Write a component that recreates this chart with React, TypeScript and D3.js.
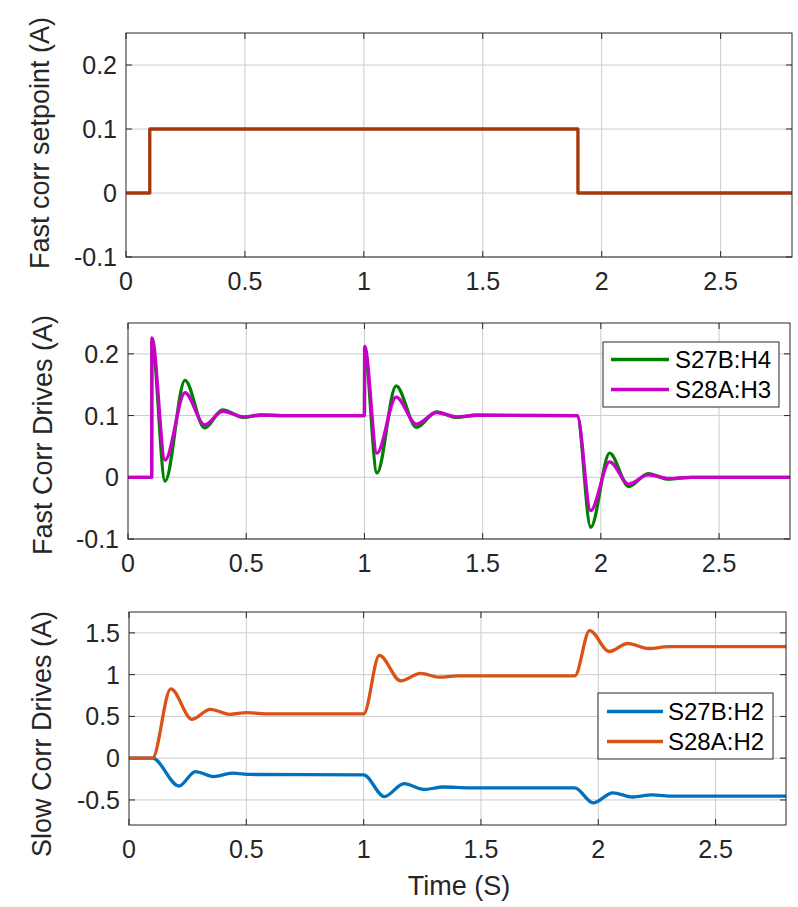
import React from 'react';
import * as d3 from 'd3';

// setpoint (step)
const spTime = [0, 0.1, 1.9, 2.8];
const spValue = [0, 0.1, 0, 0];

// fast corrector drives
const fastTime = [0, 0.1, 0.101, 0.157, 0.241, 0.324, 0.4, 0.49, 0.56, 0.65, 1.0, 1.001, 1.053, 1.134, 1.22, 1.305, 1.39, 1.47, 1.9, 1.957, 2.037, 2.118, 2.2, 2.286, 2.38, 2.8];
const fastH4 = [0, 0, 0.22, -0.006, 0.157, 0.08, 0.109, 0.097, 0.101, 0.1, 0.1, 0.205, 0.007, 0.148, 0.081, 0.106, 0.097, 0.1005, 0.1, -0.081, 0.039, -0.015, 0.006, -0.003, 0, 0];
const fastH3 = [0, 0, 0.226, 0.028, 0.137, 0.085, 0.107, 0.098, 0.1005, 0.1, 0.1, 0.212, 0.039, 0.13, 0.086, 0.105, 0.098, 0.1005, 0.1, -0.054, 0.025, -0.011, 0.004, -0.002, 0, 0];

// slow corrector drives
const slowTimeA = [0, 0.1, 0.178, 0.269, 0.346, 0.43, 0.5, 0.6, 1.0, 1.067, 1.158, 1.242, 1.32, 1.4, 1.9, 1.963, 2.047, 2.125, 2.215, 2.3, 2.8];
const slowS28A = [0, 0, 0.83, 0.465, 0.585, 0.525, 0.545, 0.53, 0.53, 1.23, 0.925, 1.015, 0.97, 0.985, 0.985, 1.527, 1.277, 1.373, 1.313, 1.335, 1.335];
const slowTimeB = [0, 0.1, 0.213, 0.283, 0.36, 0.44, 0.52, 1.0, 1.088, 1.172, 1.256, 1.34, 1.45, 1.9, 1.978, 2.062, 2.146, 2.23, 2.32, 2.8];
const slowS27B = [0, 0, -0.333, -0.16, -0.22, -0.18, -0.195, -0.2, -0.46, -0.305, -0.375, -0.345, -0.355, -0.355, -0.535, -0.415, -0.465, -0.44, -0.455, -0.455];

const xTicks = [0, 0.5, 1, 1.5, 2, 2.5];
const fastYTicks = [-0.1, 0, 0.1, 0.2];
const slowYTicks = [-0.5, 0, 0.5, 1, 1.5];

const FONT = '"Liberation Sans", Arial, Helvetica, sans-serif';
const INK = '#262626';

type Series = { t: number[]; v: number[]; color: string; name?: string; step?: boolean };

type PanelProps = {
  left: number; right: number; top: number; bottom: number;
  yDomain: [number, number]; yTicks: number[];
  ylabel: string; ylabelX: number; ylabelY: number;
  series: Series[];
  legend?: { x: number; y: number; w: number; h: number; lineX0: number; lineX1: number; textX: number; rows: number[] };
};

const fmt = (d: number) => (d === 0 ? '0' : String(d));

const Panel = ({ left, right, top, bottom, yDomain, yTicks, ylabel, ylabelX, ylabelY, series, legend }: PanelProps) => {
  const x = d3.scaleLinear().domain([0, 2.8]).range([left, right]);
  const y = d3.scaleLinear().domain(yDomain).range([bottom, top]);
  const tickLen = 6;
  return (
    <g>
      <rect x={left} y={top} width={right - left} height={bottom - top} fill="#fff" />
      {/* grid */}
      {xTicks.slice(1).map(t => (
        <line key={'gx' + t} x1={x(t)} x2={x(t)} y1={top} y2={bottom} stroke="#cccccc" strokeWidth={1} />
      ))}
      {yTicks.map(t => (
        <line key={'gy' + t} x1={left} x2={right} y1={y(t)} y2={y(t)} stroke="#cccccc" strokeWidth={1} />
      ))}
      {/* ticks */}
      {xTicks.map(t => (
        <g key={'tx' + t}>
          <line x1={x(t)} x2={x(t)} y1={bottom} y2={bottom - tickLen} stroke={INK} />
          <line x1={x(t)} x2={x(t)} y1={top} y2={top + tickLen} stroke={INK} />
          <text x={x(t)} y={bottom + 33} textAnchor="middle" fontSize={25} fill={INK} fontFamily={FONT}>{fmt(t)}</text>
        </g>
      ))}
      {yTicks.map(t => (
        <g key={'ty' + t}>
          <line x1={left} x2={left + tickLen} y1={y(t)} y2={y(t)} stroke={INK} />
          <line x1={right} x2={right - tickLen} y1={y(t)} y2={y(t)} stroke={INK} />
          <text x={left - 9} y={y(t) + 9} textAnchor="end" fontSize={25} fill={INK} fontFamily={FONT}>{fmt(t)}</text>
        </g>
      ))}
      {/* data */}
      <defs>
        <clipPath id={'clip' + top}>
          <rect x={left} y={top} width={right - left} height={bottom - top} />
        </clipPath>
      </defs>
      <g clipPath={`url(#clip${top})`}>
        {series.map((s, i) => {
          const pts: [number, number][] = s.t.map((t, j) => [t, s.v[j]]);
          const line = d3.line<[number, number]>()
            .x(d => x(d[0]))
            .y(d => y(d[1]))
            .curve(s.step ? d3.curveStepAfter : d3.curveMonotoneX);
          return <path key={i} d={line(pts) || ''} fill="none" stroke={s.color} strokeWidth={3.3} strokeLinejoin="round" />;
        })}
      </g>
      <rect x={left} y={top} width={right - left} height={bottom - top} fill="none" stroke={INK} strokeWidth={1} />
      <text transform={`translate(${ylabelX},${ylabelY}) rotate(-90)`} textAnchor="middle" fontSize={27} fill={INK} fontFamily={FONT}>{ylabel}</text>
      {legend && (
        <g>
          <rect x={legend.x} y={legend.y} width={legend.w} height={legend.h} fill="#fff" stroke={INK} strokeWidth={1} />
          {series.map((s, i) => (
            <g key={'lg' + i}>
              <line x1={legend.lineX0} x2={legend.lineX1} y1={legend.rows[i]} y2={legend.rows[i]} stroke={s.color} strokeWidth={3.3} />
              <text x={legend.textX} y={legend.rows[i] + 8.5} fontSize={24} fill="#000" fontFamily={FONT}>{s.name}</text>
            </g>
          ))}
        </g>
      )}
    </g>
  );
};

const App = () => {
  return (
    <svg width={798} height={907} style={{ position: 'absolute', left: 0, top: 0, background: '#fff' }}>
      <Panel
        left={126} right={792} top={33} bottom={257}
        yDomain={[-0.1, 0.25]} yTicks={fastYTicks}
        ylabel="Fast corr setpoint (A)" ylabelX={49} ylabelY={143}
        series={[{ t: spTime, v: spValue, color: '#A3380C', step: true }]}
      />
      <Panel
        left={128} right={790} top={323} bottom={539}
        yDomain={[-0.1, 0.25]} yTicks={fastYTicks}
        ylabel="Fast Corr Drives (A)" ylabelX={52} ylabelY={435}
        series={[
          { t: fastTime, v: fastH4, color: '#008000', name: 'S27B:H4' },
          { t: fastTime, v: fastH3, color: '#C800C8', name: 'S28A:H3' },
        ]}
        legend={{ x: 603, y: 342, w: 176, h: 65, lineX0: 611, lineX1: 669, textX: 675, rows: [359.5, 389.5] }}
      />
      <Panel
        left={129} right={786} top={612} bottom={825}
        yDomain={[-0.8, 1.75]} yTicks={slowYTicks}
        ylabel="Slow Corr Drives (A)" ylabelX={51} ylabelY={734}
        series={[
          { t: slowTimeB, v: slowS27B, color: '#0072BD', name: 'S27B:H2' },
          { t: slowTimeA, v: slowS28A, color: '#D95319', name: 'S28A:H2' },
        ]}
        legend={{ x: 598, y: 693, w: 175, h: 66, lineX0: 607, lineX1: 663, textX: 668, rows: [711.5, 741.5] }}
      />
      <text x={459} y={895} textAnchor="middle" fontSize={27} fill={INK} fontFamily={FONT}>Time (S)</text>
    </svg>
  );
};

export default App;
